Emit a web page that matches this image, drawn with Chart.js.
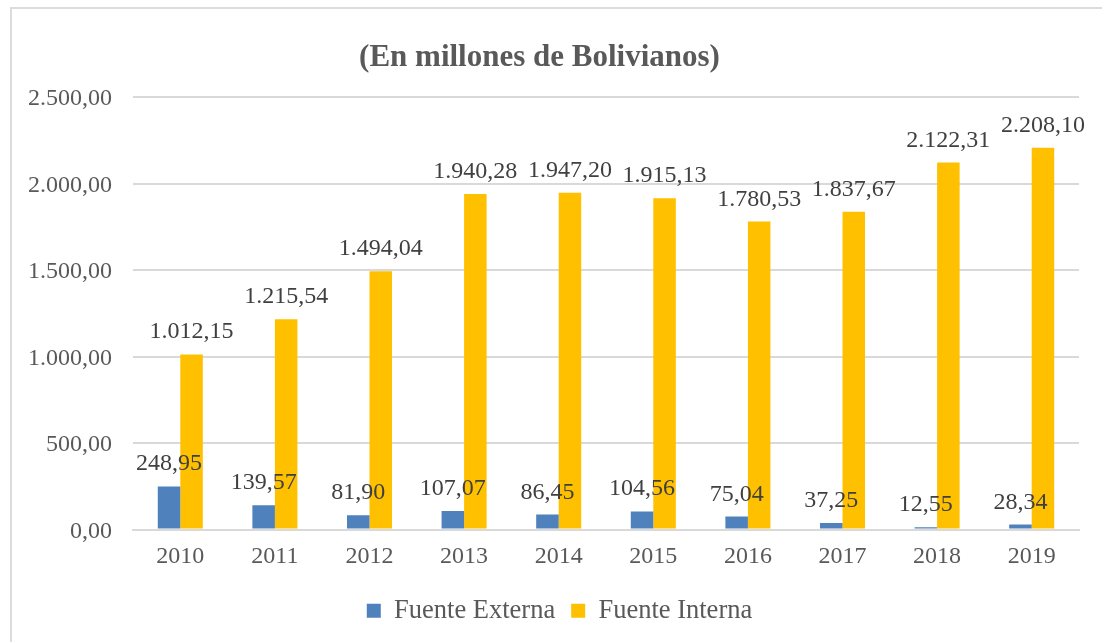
<!DOCTYPE html>
<html>
<head>
<meta charset="utf-8">
<script src="https://cdn.jsdelivr.net/npm/chart.js@4/dist/chart.umd.min.js"></script>
<style>
  html, body { margin: 0; padding: 0; background: #fff; overflow: hidden; }
  #wrap { position: relative; width: 1102px; height: 642px; }
  #frame { position: absolute; left: 10px; top: 7px; width: 1200px; height: 800px;
           border: 2px solid #dcdcdc; pointer-events: none; }
  canvas { position: absolute; left: 0; top: 0; }
</style>
</head>
<body>
<div id="wrap">
  <canvas id="chart" width="1102" height="642"></canvas>
  <div id="frame"></div>
</div>
<script>
// datos (en millones de Bolivianos)
const years = ['2010', '2011', '2012', '2013', '2014', '2015', '2016', '2017', '2018', '2019'];
const fuenteExterna = [248.95, 139.57, 81.90, 107.07, 86.45, 104.56, 75.04, 37.25, 12.55, 28.34];
const fuenteInterna = [1012.15, 1215.54, 1494.04, 1940.28, 1947.20, 1915.13, 1780.53, 1837.67, 2122.31, 2208.10];
const chartTitle = '(En millones de Bolivianos)';

// formato boliviano: 1.234,56
function fmtBs(v) {
    let parts = v.toFixed(2).split('.');
    return parts[0].replace(/\B(?=(\d{3})+(?!\d))/g, '.') + ',' + parts[1];
}

const serif = "'Liberation Serif', 'Times New Roman', serif";

// etiquetas de valor sobre cada barra
const valueLabels = {
    id: 'valueLabels',
    afterDatasetsDraw(chart) {
        const ctx = chart.ctx;
        ctx.save();
        ctx.font = '24px ' + serif;
        ctx.fillStyle = '#404040';
        ctx.textAlign = 'center';
        ctx.textBaseline = 'alphabetic';
        chart.data.datasets.forEach((ds, i) => {
            chart.getDatasetMeta(i).data.forEach((bar, j) => {
                ctx.fillText(fmtBs(ds.data[j]), bar.x, bar.y - 16);
            });
        });
        ctx.restore();
    }
};

// la leyenda va un poco a la derecha del centro (como en el original)
const legendShift = {
    id: 'legendShift',
    afterLayout(chart) {
        if (chart.legend) chart.legend.left += 40;
    }
};

new Chart(document.getElementById('chart'), {
    type: 'bar',
    data: {
        labels: years,
        datasets: [
            { label: 'Fuente Externa', data: fuenteExterna, backgroundColor: '#4F81BD' },
            { label: 'Fuente Interna', data: fuenteInterna, backgroundColor: '#FFC000' }
        ]
    },
    options: {
        responsive: false,
        animation: false,
        devicePixelRatio: 1,
        layout: { padding: { left: 0, right: 23, top: 0, bottom: 8 } },
        datasets: { bar: { categoryPercentage: 0.476, barPercentage: 1 } },
        plugins: {
            title: {
                display: true,
                text: chartTitle,
                color: '#595959',
                font: { family: serif, size: 31, weight: 'bold' },
                padding: { top: 39, bottom: 21 }
            },
            legend: {
                position: 'bottom',
                labels: {
                    color: '#595959',
                    font: { family: serif, size: 26.5 },
                    boxWidth: 14,
                    boxHeight: 14,
                    padding: 16
                }
            },
            tooltip: { enabled: false }
        },
        scales: {
            x: {
                grid: { display: false, drawTicks: false },
                border: { color: '#d9d9d9', width: 2 },
                ticks: { color: '#595959', font: { family: serif, size: 24 }, padding: 13 },
                afterFit: s => { s.height = 52; }
            },
            y: {
                min: 0,
                max: 2500,
                grid: { color: '#d9d9d9', lineWidth: 2, drawTicks: false },
                border: { display: false },
                ticks: {
                    stepSize: 500,
                    color: '#595959',
                    font: { family: serif, size: 24 },
                    padding: 21,
                    labelOffset: 2,
                    callback: v => fmtBs(v)
                },
                afterFit: s => { s.width = 133; }
            }
        }
    },
    plugins: [valueLabels, legendShift]
});
</script>
</body>
</html>
